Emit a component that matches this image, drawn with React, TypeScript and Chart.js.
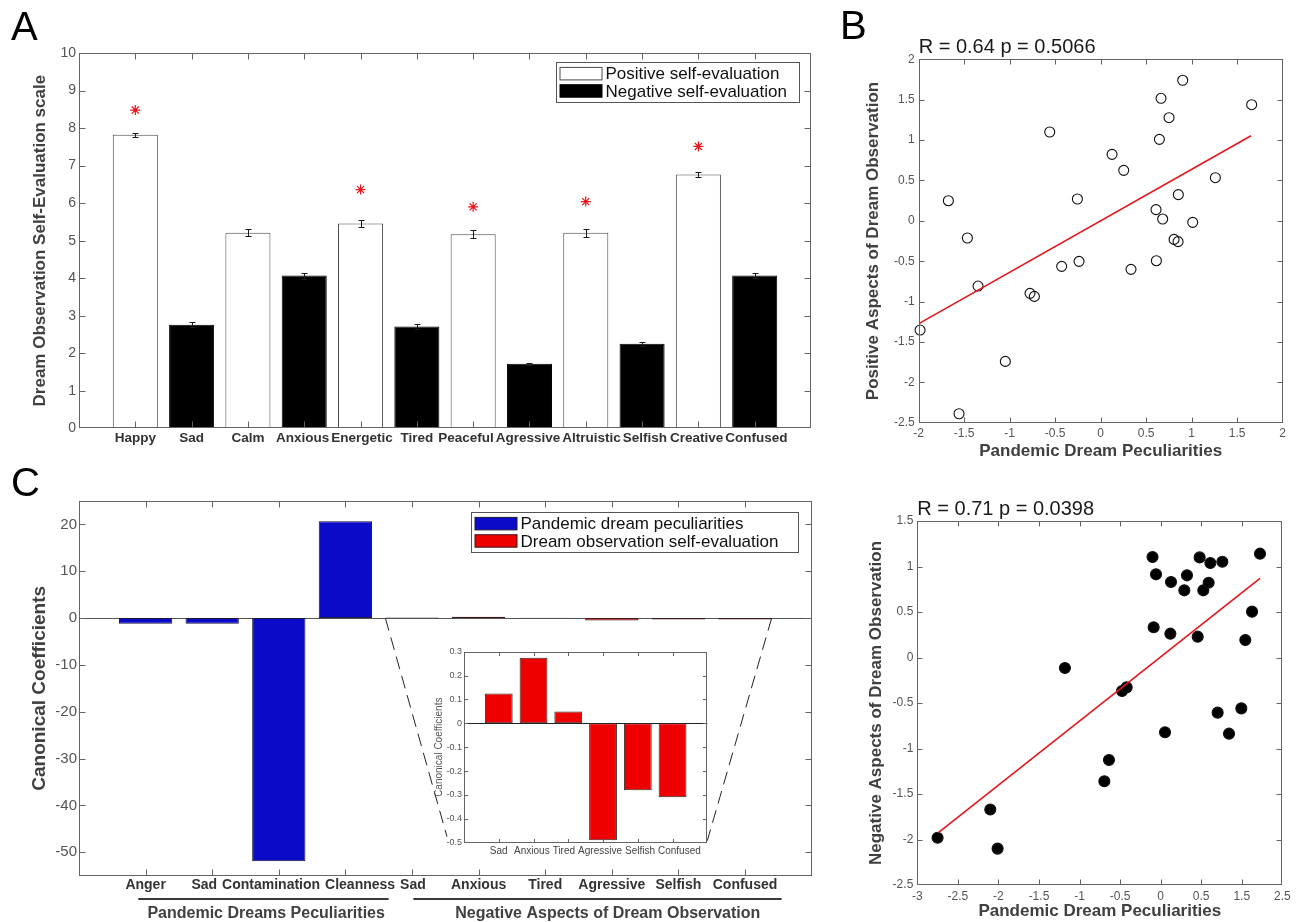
import React, { useEffect, useRef } from 'react';
import { Chart, registerables } from 'chart.js';

Chart.register(...registerables);

const FONT = '"Liberation Sans", Arial, Helvetica, sans-serif';
const AXIS = '#646464';
const TICK_TXT = '#555555';
const LABEL_TXT = '#404040';

// ---------------- Panel A data ----------------
const emotionCategories = ['Happy', 'Sad', 'Calm', 'Anxious', 'Energetic', 'Tired', 'Peaceful', 'Agressive', 'Altruistic', 'Selfish', 'Creative', 'Confused'];
const emotionValence = ['pos', 'neg', 'pos', 'neg', 'pos', 'neg', 'pos', 'neg', 'pos', 'neg', 'pos', 'neg'];
const emotionMeans = [7.82, 2.76, 5.21, 4.07, 5.46, 2.71, 5.17, 1.72, 5.21, 2.25, 6.76, 4.07];
const emotionErrors = [0.06, 0.07, 0.09, 0.08, 0.1, 0.06, 0.11, 0.03, 0.1, 0.05, 0.07, 0.07];
const starHeights = [8.48, null, null, null, 6.36, null, 5.9, null, 6.04, null, 7.51, null];
const aYTicks = [0, 1, 2, 3, 4, 5, 6, 7, 8, 9, 10];

// ---------------- Panel B data ----------------
const bX = [-1.985, -1.674, -1.557, -1.465, -1.348, -1.048, -0.777, -0.729, -0.56, -0.429, -0.256, -0.238, 0.125, 0.253, 0.333, 0.608, 0.612, 0.645, 0.663, 0.681, 0.751, 0.806, 0.85, 0.853, 0.901, 1.011, 1.26, 1.659];
const bY = [-1.353, 0.249, -2.389, -0.213, -0.808, -1.741, -0.898, -0.936, 1.1, -0.564, 0.27, -0.502, 0.823, 0.625, -0.601, 0.138, -0.494, 1.009, 1.517, 0.022, 1.277, -0.23, -0.258, 0.324, 1.74, -0.019, 0.534, 1.438];
const bFitX = [-1.993, 1.652];
const bFitY = [-1.27, 1.054];
const bXTicks = [-2, -1.5, -1, -0.5, 0, 0.5, 1, 1.5, 2];
const bYTicks = [-2.5, -2, -1.5, -1, -0.5, 0, 0.5, 1, 1.5, 2];

// ---------------- Panel C data ----------------
const cCategories = ['Anger', 'Sad', 'Contamination', 'Cleanness', 'Sad', 'Anxious', 'Tired', 'Agressive', 'Selfish', 'Confused'];
const peculiarityCoeffs = [-1.2, -1.2, -51.9, 20.7, null, null, null, null, null, null];
const selfEvalCoeffs = [null, null, null, null, 0.125, 0.275, 0.05, -0.49, -0.28, -0.31];
const cYTicks = [-50, -40, -30, -20, -10, 0, 10, 20];
const insetCategories = ['Sad', 'Anxious', 'Tired', 'Agressive', 'Selfish', 'Confused'];
const insetCoeffs = [0.125, 0.275, 0.05, -0.49, -0.28, -0.31];
const insetYTicks = [-0.5, -0.4, -0.3, -0.2, -0.1, 0, 0.1, 0.2, 0.3];
const cGroups = ['Pandemic Dreams Peculiarities', 'Negative Aspects of Dream Observation'];

// ---------------- Panel D data ----------------
const dX = [-2.75, -2.1, -2.01, -1.18, -0.694, -0.637, -0.476, -0.419, -0.1, -0.057, -0.086, 0.054, 0.128, 0.12, 0.292, 0.325, 0.457, 0.481, 0.526, 0.592, 0.613, 0.703, 0.761, 0.843, 0.995, 1.044, 1.127, 1.225];
const dY = [-1.98, -1.67, -2.1, -0.115, -1.36, -1.126, -0.368, -0.328, 1.104, 0.914, 0.332, -0.822, 0.83, 0.262, 0.738, 0.903, 0.229, 1.1, 0.738, 0.822, 1.038, -0.606, 1.053, -0.837, -0.559, 0.192, 0.504, 1.141];
const dFitX = [-2.74, 1.225];
const dFitY = [-1.925, 0.869];
const dXTicks = [-3, -2.5, -2, -1.5, -1, -0.5, 0, 0.5, 1, 1.5];
const dXTickLabels = ['-3', '-2.5', '-2', '-1.5', '-1', '-0.5', '0', '0.5', '1.5', '2.5'];
const dYTicks = [-2.5, -2, -1.5, -1, -0.5, 0, 0.5, 1, 1.5];

// ---------------- layout (canvas boxes) ----------------
const POS = {
  A: { left: 0, top: 0, w: 830, h: 460 },
  B: { left: 840, top: 0, w: 458, h: 462 },
  C: { left: 0, top: 460, w: 830, h: 462 },
  I: { left: 430, top: 640, w: 290, h: 225 },
  D: { left: 840, top: 470, w: 458, h: 452 },
};

const padLabels = (arr: string[]) => ['', ...arr, ''];
const padVals = (arr: any[]) => [null, ...arr, null];
const setTicks = (arr: number[]) => (s: any) => { s.ticks = arr.map((v) => ({ value: v })); };
const fixW = (w: number) => (s: any) => { s.width = w; };
const fixH = (h: number) => (s: any) => { s.height = h; };

function framePlugin(o: { tick: number; color: string; zero?: string }) {
  return {
    id: 'frame',
    beforeDatasetsDraw(chart: any) {
      if (!o.zero) return;
      const { ctx, chartArea: a, scales } = chart;
      const y0 = Math.round(scales.y.getPixelForValue(0)) + 0.5;
      ctx.save();
      ctx.strokeStyle = o.zero;
      ctx.lineWidth = 1;
      ctx.beginPath();
      ctx.moveTo(a.left, y0);
      ctx.lineTo(a.right, y0);
      ctx.stroke();
      ctx.restore();
    },
    afterDatasetsDraw(chart: any) {
      const { ctx, chartArea: a, scales } = chart;
      const L = Math.round(a.left) + 0.5;
      const R = Math.round(a.right) - 0.5;
      const T = Math.round(a.top) + 0.5;
      const B = Math.round(a.bottom) - 0.5;
      ctx.save();
      ctx.strokeStyle = o.color;
      ctx.lineWidth = 1;
      ctx.beginPath();
      scales.x.ticks.forEach((t: any, i: number) => {
        if (String(scales.x.getLabelForValue(t.value)) === '') return;
        const x = Math.round(scales.x.getPixelForTick(i)) + 0.5;
        if (x <= L + 1 || x >= R - 1) return;
        ctx.moveTo(x, B); ctx.lineTo(x, B - o.tick);
        ctx.moveTo(x, T); ctx.lineTo(x, T + o.tick);
      });
      scales.y.ticks.forEach((t: any, i: number) => {
        const y = Math.round(scales.y.getPixelForTick(i)) + 0.5;
        if (y <= T + 1 || y >= B - 1) return;
        ctx.moveTo(L, y); ctx.lineTo(L + o.tick, y);
        ctx.moveTo(R, y); ctx.lineTo(R - o.tick, y);
      });
      ctx.stroke();
      ctx.strokeRect(L, T, R - L, B - T);
      ctx.restore();
    },
  };
}

// Category labels under the x axis, nudged apart where neighbours would overlap
function categoryLabelPlugin(o: { font: string; color: string; pad: number; gap: number }) {
  return {
    id: 'catLabels',
    afterDraw(chart: any) {
      const { ctx, chartArea: a, scales: { x } } = chart;
      const labels: string[] = chart.data.labels;
      ctx.save();
      ctx.font = o.font;
      const items = labels
        .map((l, i) => ({ l, c: x.getPixelForValue(i) }))
        .filter((it) => it.l !== '')
        .map((it) => ({ ...it, w: ctx.measureText(it.l).width }));
      const pos = items.map((it) => it.c);
      for (let iter = 0; iter < 300; iter++) {
        let moved = false;
        for (let i = 0; i < pos.length - 1; i++) {
          const need = (items[i].w + items[i + 1].w) / 2 + o.gap;
          const d = pos[i + 1] - pos[i];
          if (d < need - 0.01) {
            const s = (need - d) / 2;
            pos[i] -= s;
            pos[i + 1] += s;
            moved = true;
          }
        }
        if (!moved) break;
      }
      ctx.fillStyle = o.color;
      ctx.textAlign = 'center';
      ctx.textBaseline = 'top';
      items.forEach((it, i) => ctx.fillText(it.l, pos[i], a.bottom + o.pad));
      ctx.restore();
    },
  };
}

function textPlugin(texts: { text: string; x: number; y: number; size: number; color?: string }[]) {
  return {
    id: 'texts',
    afterDraw(chart: any) {
      const { ctx } = chart;
      ctx.save();
      texts.forEach((t) => {
        ctx.font = `${t.size}px ${FONT}`;
        ctx.fillStyle = t.color || '#000';
        ctx.textAlign = 'left';
        ctx.textBaseline = 'alphabetic';
        ctx.fillText(t.text, t.x, t.y);
      });
      ctx.restore();
    },
  };
}

function boxLegendPlugin(o: { right: number; top: number; padR: number }) {
  return {
    id: 'boxLegend',
    afterDraw(chart: any) {
      const { ctx, chartArea: a } = chart;
      const items = chart.data.datasets
        .filter((d: any) => d.type !== 'line')
        .map((d: any) => ({ label: d.label, fill: d.backgroundColor, stroke: d.borderColor }));
      ctx.save();
      ctx.font = `17px ${FONT}`;
      const tw = Math.max(...items.map((it: any) => ctx.measureText(it.label).width));
      const sw = 42, sh = 12.5, pad = 3.5, rowH = 17.3, padY = 2.5;
      const w = Math.round(pad + sw + pad + tw + o.padR);
      const h = Math.round(padY * 2 + rowH * items.length);
      const x = Math.round(a.right - o.right - w) + 0.5;
      const y = Math.round(a.top + o.top) + 0.5;
      ctx.fillStyle = '#fff';
      ctx.fillRect(x, y, w, h);
      ctx.lineWidth = 1;
      ctx.strokeStyle = '#555';
      ctx.strokeRect(x, y, w, h);
      items.forEach((it: any, i: number) => {
        const cy = y + padY + rowH * i + rowH / 2;
        ctx.fillStyle = it.fill;
        ctx.fillRect(x + pad, cy - sh / 2, sw, sh);
        ctx.strokeStyle = it.stroke;
        ctx.strokeRect(x + pad, cy - sh / 2, sw, sh);
        ctx.fillStyle = '#111';
        ctx.textBaseline = 'middle';
        ctx.textAlign = 'left';
        ctx.fillText(it.label, x + pad + sw + pad, cy + 1);
      });
      ctx.restore();
    },
  };
}

const errorBarPlugin = {
  id: 'errorBars',
  afterDatasetsDraw(chart: any) {
    const { ctx, scales: { x, y } } = chart;
    ctx.save();
    ctx.strokeStyle = '#1a1a1a';
    ctx.lineWidth = 1;
    emotionMeans.forEach((m, i) => {
      const e = emotionErrors[i];
      const px = Math.round(x.getPixelForValue(i + 1)) + 0.5;
      const top = Math.round(y.getPixelForValue(m + e)) + 0.5;
      const bot = Math.round(y.getPixelForValue(m - e)) + 0.5;
      ctx.beginPath();
      ctx.moveTo(px, top); ctx.lineTo(px, bot);
      ctx.moveTo(px - 3, top); ctx.lineTo(px + 3, top);
      ctx.moveTo(px - 3, bot); ctx.lineTo(px + 3, bot);
      ctx.stroke();
    });
    ctx.restore();
  },
};

const tickFont = (size: number, bold = false) => ({ family: FONT, size, weight: bold ? 'bold' : 'normal' });
const axisTitle = (text: string, size: number, padTop: number, color = LABEL_TXT, bold = true) => ({
  display: true,
  text,
  color,
  font: { family: FONT, size, weight: bold ? 'bold' : 'normal' },
  padding: { top: padTop, bottom: 0 },
});
const noGrid = { display: false, drawTicks: false };
const hiddenCatAxis = (h: number) => ({
  type: 'category',
  offset: false,
  afterFit: fixH(h),
  grid: noGrid,
  border: { display: false },
  ticks: { display: false, autoSkip: false, maxRotation: 0, minRotation: 0 },
});

function scatterPanel(canvas: HTMLCanvasElement, cfg: any) {
  return new Chart(canvas, {
    type: 'scatter',
    data: {
      datasets: [
        {
          type: 'line',
          label: 'fit',
          data: cfg.fitX.map((x: number, i: number) => ({ x, y: cfg.fitY[i] })),
          borderColor: '#e3161c',
          borderWidth: 1.6,
          pointRadius: 0,
          order: 0,
        },
        {
          type: 'scatter',
          label: 'subjects',
          data: cfg.xs.map((x: number, i: number) => ({ x, y: cfg.ys[i] })),
          pointStyle: 'circle',
          pointRadius: cfg.radius,
          backgroundColor: cfg.fill,
          borderColor: '#111',
          borderWidth: 1.1,
          clip: false,
          order: 1,
        },
      ],
    } as any,
    options: {
      responsive: false,
      maintainAspectRatio: false,
      animation: false,
      events: [],
      layout: { padding: { left: 0, right: cfg.padR, top: cfg.padT, bottom: 0 } },
      plugins: {
        legend: { display: false },
        tooltip: { enabled: false },
        title: {
          display: true,
          text: cfg.title,
          align: 'start',
          fullSize: false,
          padding: 0,
          color: '#1a1a1a',
          font: { family: FONT, size: 20, weight: 'normal' },
        },
      },
      scales: {
        x: {
          type: 'linear',
          min: cfg.xTicks[0],
          max: cfg.xTicks[cfg.xTicks.length - 1],
          afterBuildTicks: setTicks(cfg.xTicks),
          afterFit: fixH(cfg.xH),
          grid: noGrid,
          border: { display: false },
          ticks: {
            color: TICK_TXT,
            font: tickFont(12),
            padding: 4,
            maxRotation: 0,
            autoSkip: false,
            callback: (v: any, i: number) => cfg.xLabels[i],
          },
          title: { ...axisTitle('Pandemic Dream Peculiarities', 17, 0), padding: { top: 0, bottom: 0 } },
        },
        y: {
          type: 'linear',
          min: cfg.yTicks[0],
          max: cfg.yTicks[cfg.yTicks.length - 1],
          afterBuildTicks: setTicks(cfg.yTicks),
          afterFit: fixW(cfg.yW),
          grid: noGrid,
          border: { display: false },
          ticks: { color: TICK_TXT, font: tickFont(12), padding: 4, autoSkip: false, callback: (v: any) => String(v) },
          title: axisTitle(cfg.yTitle, 17, cfg.yTitlePad),
        },
      },
    } as any,
    plugins: [framePlugin({ tick: 5, color: AXIS }), textPlugin(cfg.letters)] as any,
  });
}

export default function App() {
  const aRef = useRef<HTMLCanvasElement>(null);
  const bRef = useRef<HTMLCanvasElement>(null);
  const cRef = useRef<HTMLCanvasElement>(null);
  const iRef = useRef<HTMLCanvasElement>(null);
  const dRef = useRef<HTMLCanvasElement>(null);

  useEffect(() => {
    const charts: Chart[] = [];

    // ---------- Panel A ----------
    charts.push(
      new Chart(aRef.current as HTMLCanvasElement, {
        type: 'bar',
        data: {
          labels: padLabels(emotionCategories),
          datasets: [
            {
              label: 'Positive self-evaluation',
              data: padVals(emotionMeans.map((v, i) => (emotionValence[i] === 'pos' ? v : null))),
              backgroundColor: '#ffffff',
              borderColor: '#4a4a4a',
              borderWidth: 1,
              grouped: false,
              barPercentage: 0.8,
              categoryPercentage: 1,
              order: 2,
            },
            {
              label: 'Negative self-evaluation',
              data: padVals(emotionMeans.map((v, i) => (emotionValence[i] === 'neg' ? v : null))),
              backgroundColor: '#000000',
              borderColor: '#000000',
              borderWidth: 1,
              grouped: false,
              barPercentage: 0.8,
              categoryPercentage: 1,
              order: 2,
            },
            {
              type: 'line',
              label: 'significant',
              data: padVals(starHeights),
              showLine: false,
              pointStyle: 'star',
              pointRadius: 5,
              pointBorderColor: '#e8141b',
              pointBackgroundColor: '#e8141b',
              pointBorderWidth: 1.2,
              order: 0,
            },
          ],
        } as any,
        options: {
          responsive: false,
          maintainAspectRatio: false,
          animation: false,
          events: [],
          layout: { padding: { left: 0, right: 19, top: 53, bottom: 0 } },
          plugins: { legend: { display: false }, tooltip: { enabled: false } },
          scales: {
            x: hiddenCatAxis(31.7),
            y: {
              min: 0,
              max: 10,
              afterBuildTicks: setTicks(aYTicks),
              afterFit: fixW(79),
              grid: noGrid,
              border: { display: false },
              ticks: { color: TICK_TXT, font: tickFont(14), padding: 3, callback: (v: any) => String(v) },
              title: axisTitle('Dream Observation Self-Evaluation scale', 17, 30.5),
            },
          },
        } as any,
        plugins: [
          errorBarPlugin,
          framePlugin({ tick: 6, color: AXIS }),
          categoryLabelPlugin({ font: `bold 13.5px ${FONT}`, color: '#333', pad: 3, gap: 2 }),
          boxLegendPlugin({ right: 12, top: 8.7, padR: 13 }),
          textPlugin([{ text: 'A', x: 11, y: 40, size: 40 }]),
        ] as any,
      })
    );

    // ---------- Panel B ----------
    charts.push(
      scatterPanel(bRef.current as HTMLCanvasElement, {
        xs: bX, ys: bY, fitX: bFitX, fitY: bFitY,
        radius: 5, fill: 'rgba(0,0,0,0)',
        title: 'R = 0.64 p = 0.5066',
        xTicks: bXTicks, xLabels: bXTicks.map(String), yTicks: bYTicks,
        padR: 15.3, padT: 35.3, xH: 39.3, yW: 78.7, yTitlePad: 23,
        yTitle: 'Positive Aspects of Dream Observation',
        letters: [{ text: 'B', x: 0, y: 39, size: 40 }],
      })
    );

    // ---------- Panel D ----------
    charts.push(
      scatterPanel(dRef.current as HTMLCanvasElement, {
        xs: dX, ys: dY, fitX: dFitX, fitY: dFitY,
        radius: 5.5, fill: '#000',
        title: 'R = 0.71 p = 0.0398',
        xTicks: dXTicks, xLabels: dXTickLabels, yTicks: dYTicks,
        padR: 15.7, padT: 27, xH: 37, yW: 77.3, yTitlePad: 26.5,
        yTitle: 'Negative Aspects of Dream Observation',
        letters: [],
      })
    );

    // ---------- Panel C inset ----------
    const inset = new Chart(iRef.current as HTMLCanvasElement, {
      type: 'bar',
      data: {
        labels: padLabels(insetCategories),
        datasets: [
          {
            label: 'Dream observation self-evaluation',
            data: padVals(insetCoeffs),
            backgroundColor: '#ee0000',
            borderColor: '#2a2a2a',
            borderWidth: 1,
            borderSkipped: false,
            barPercentage: 0.8,
            categoryPercentage: 1,
          },
        ],
      } as any,
      options: {
        responsive: false,
        maintainAspectRatio: false,
        animation: false,
        events: [],
        layout: { padding: { left: 0, right: 12.7, top: 11.7, bottom: 0 } },
        plugins: { legend: { display: false }, tooltip: { enabled: false } },
        scales: {
          x: hiddenCatAxis(22.3),
          y: {
            min: -0.5,
            max: 0.3,
            afterBuildTicks: setTicks(insetYTicks),
            afterFit: fixW(34),
            grid: noGrid,
            border: { display: false },
            ticks: { color: TICK_TXT, font: tickFont(9), padding: 2, callback: (v: any) => String(v) },
            title: axisTitle('Canonical Coefficients', 10, 3.3, '#555', false),
          },
        },
      } as any,
      plugins: [
        framePlugin({ tick: 3.5, color: AXIS, zero: '#222' }),
        categoryLabelPlugin({ font: `10px ${FONT}`, color: '#444', pad: 4, gap: 3 }),
      ] as any,
    });
    charts.push(inset);

    // ---------- Panel C main ----------
    const cExtras = {
      id: 'cExtras',
      afterDraw(chart: any) {
        const { ctx, chartArea: a, scales: { x, y } } = chart;
        const sp = x.getPixelForValue(2) - x.getPixelForValue(1);
        const half = sp * 0.4;
        const y0 = y.getPixelForValue(0);
        const ia = inset.chartArea;
        const ox = POS.I.left - POS.C.left;
        const oy = POS.I.top - POS.C.top;
        ctx.save();
        // zoom dashes
        ctx.strokeStyle = '#222';
        ctx.lineWidth = 1;
        ctx.setLineDash([13, 7]);
        ctx.beginPath();
        ctx.moveTo(x.getPixelForValue(5) - half, y0);
        ctx.lineTo(ox + ia.left - 17, oy + ia.bottom - 6);
        ctx.moveTo(x.getPixelForValue(10) + half, y0);
        ctx.lineTo(ox + ia.right, oy + ia.bottom - 2);
        ctx.stroke();
        ctx.setLineDash([]);
        // group brackets
        const spans = [[0.89, 4.65, 2.81], [5.02, 10.55, 7.94]];
        ctx.strokeStyle = '#3a3a3a';
        ctx.lineWidth = 2;
        ctx.font = `bold 16px ${FONT}`;
        ctx.fillStyle = LABEL_TXT;
        ctx.textAlign = 'center';
        ctx.textBaseline = 'middle';
        cGroups.forEach((g, i) => {
          const [s, e, c] = spans[i];
          ctx.beginPath();
          ctx.moveTo(x.getPixelForValue(s), a.bottom + 23.3);
          ctx.lineTo(x.getPixelForValue(e), a.bottom + 23.3);
          ctx.stroke();
          ctx.fillText(g, x.getPixelForValue(c), a.bottom + 38);
        });
        ctx.restore();
      },
    };

    charts.push(
      new Chart(cRef.current as HTMLCanvasElement, {
        type: 'bar',
        data: {
          labels: padLabels(cCategories),
          datasets: [
            {
              label: 'Pandemic dream peculiarities',
              data: padVals(peculiarityCoeffs),
              backgroundColor: '#0a0ac8',
              borderColor: '#1a1a3a',
              borderWidth: 1,
              borderSkipped: false,
              grouped: false,
              barPercentage: 0.8,
              categoryPercentage: 1,
            },
            {
              label: 'Dream observation self-evaluation',
              data: padVals(selfEvalCoeffs),
              backgroundColor: '#ee0000',
              borderColor: '#3a1a1a',
              borderWidth: 1,
              borderSkipped: false,
              grouped: false,
              barPercentage: 0.8,
              categoryPercentage: 1,
            },
          ],
        } as any,
        options: {
          responsive: false,
          maintainAspectRatio: false,
          animation: false,
          events: [],
          layout: { padding: { left: 0, right: 18.4, top: 41, bottom: 0 } },
          plugins: { legend: { display: false }, tooltip: { enabled: false } },
          scales: {
            x: hiddenCatAxis(46.3),
            y: {
              min: -55,
              max: 25,
              afterBuildTicks: setTicks(cYTicks),
              afterFit: fixW(79),
              grid: noGrid,
              border: { display: false },
              ticks: { color: TICK_TXT, font: tickFont(15), padding: 2, callback: (v: any) => String(v) },
              title: axisTitle('Canonical Coefficients', 19, 28.6),
            },
          },
        } as any,
        plugins: [
          framePlugin({ tick: 6, color: AXIS, zero: '#555' }),
          categoryLabelPlugin({ font: `bold 14px ${FONT}`, color: '#333', pad: 2, gap: 5 }),
          cExtras,
          boxLegendPlugin({ right: 13.6, top: 10.7, padR: 20 }),
          textPlugin([{ text: 'C', x: 11, y: 36, size: 40 }]),
        ] as any,
      })
    );

    return () => {
      charts.forEach((c) => c.destroy());
    };
  }, []);

  const cv = (p: { left: number; top: number; w: number; h: number }) => ({
    position: 'absolute' as const,
    left: p.left,
    top: p.top,
    width: p.w,
    height: p.h,
    display: 'block',
  });

  return (
    <div style={{ position: 'absolute', left: 0, top: 0, width: 1298, height: 922, background: '#fff', overflow: 'hidden' }}>
      <canvas ref={aRef} width={POS.A.w} height={POS.A.h} style={cv(POS.A)} />
      <canvas ref={bRef} width={POS.B.w} height={POS.B.h} style={cv(POS.B)} />
      <canvas ref={cRef} width={POS.C.w} height={POS.C.h} style={cv(POS.C)} />
      <canvas ref={iRef} width={POS.I.w} height={POS.I.h} style={cv(POS.I)} />
      <canvas ref={dRef} width={POS.D.w} height={POS.D.h} style={cv(POS.D)} />
    </div>
  );
}
